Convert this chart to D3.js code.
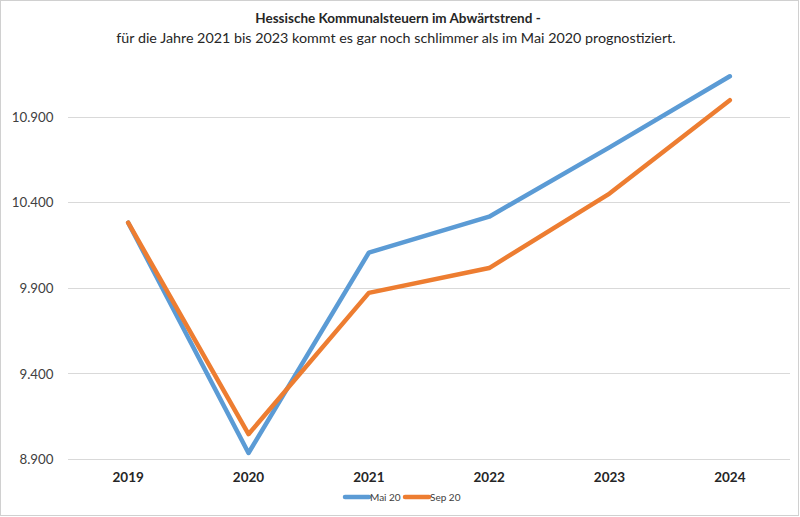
<!DOCTYPE html>
<html><head><meta charset="utf-8">
<script src="https://cdn.jsdelivr.net/npm/d3@7"></script>
<style>
html,body{margin:0;padding:0;background:#fff;}
svg{display:block;}
</style></head>
<body>
<svg id="c" width="800" height="517"></svg>
<script>
const years = ["2019","2020","2021","2022","2023","2024"];
const mai20 = [10280, 8935, 10105, 10315, 10720, 11135];
const sep20 = [10280, 9045, 9870, 10015, 10450, 10995];
const yTicks = [8900, 9400, 9900, 10400, 10900];
const seriesNames = ["Mai 20", "Sep 20"];
const colors = ["#5B9BD5", "#ED7D31"];
const titleLine1 = "Hessische Kommunalsteuern im Abwärtstrend -";
const titleLine2 = "für die Jahre 2021 bis 2023 kommt es gar noch schlimmer als im Mai 2020 prognostiziert.";

const font = "Lato, 'Open Sans', sans-serif";
const svg = d3.select("#c");

svg.append("rect").attr("x",0.5).attr("y",0.5).attr("width",798).attr("height",515)
  .attr("fill","#fff").attr("stroke","#d0d0d0");

const x = d3.scaleBand().domain(years).range([68, 790]);
const y = d3.scaleLinear().domain([8900, 10900]).range([459, 116.5]);

// gridlines
svg.append("g").selectAll("line").data(yTicks).join("line")
  .attr("x1", 68).attr("x2", 790)
  .attr("y1", d => Math.round(y(d)) + 0.5).attr("y2", d => Math.round(y(d)) + 0.5)
  .attr("stroke", "#d9d9d9").attr("stroke-width", 1.2);

// y axis labels
const yAxis = d3.axisLeft(y).tickValues(yTicks).tickSize(0).tickPadding(0)
  .tickFormat(d => d3.format(",")(d).replace(",", "."));
const gy = svg.append("g").attr("transform", "translate(53.5,0)").call(yAxis);
gy.select(".domain").remove();
gy.selectAll("text").attr("font-family", font).attr("font-size", 13.3).attr("fill", "#404040").attr("dy","0.35em");

// x axis labels
const xAxis = d3.axisBottom(x).tickSize(0).tickPadding(0);
const gx = svg.append("g").attr("transform", "translate(0,472)").call(xAxis);
gx.select(".domain").remove();
gx.selectAll("text").attr("font-family", font).attr("font-size", 13.5).attr("font-weight", "bold").attr("fill", "#262626").attr("dy","0.71em");

// lines
const line = d3.line().x((d, i) => x(years[i]) + x.bandwidth() / 2).y(d => y(d));
[mai20, sep20].forEach((s, k) => {
  svg.append("path").datum(s).attr("d", line).attr("fill", "none")
    .attr("stroke", colors[k]).attr("stroke-width", 4.5)
    .attr("stroke-linejoin", "round").attr("stroke-linecap", "round");
});

// title
svg.append("text").attr("x", 398).attr("y", 23).attr("text-anchor", "middle")
  .attr("font-family", font).attr("font-size", 13.5).attr("font-weight", "bold").attr("fill", "#262626").text(titleLine1);
svg.append("text").attr("x", 396).attr("y", 43).attr("text-anchor", "middle")
  .attr("font-family", font).attr("font-size", 14.3).attr("fill", "#262626").text(titleLine2);

// legend
const legX = [345, 405];
seriesNames.forEach((n, k) => {
  svg.append("line").attr("x1", legX[k]).attr("x2", legX[k] + 24).attr("y1", 497).attr("y2", 497)
    .attr("stroke", colors[k]).attr("stroke-width", 4.5).attr("stroke-linecap", "round");
  svg.append("text").attr("x", legX[k] + 25).attr("y", 500.5).attr("font-family", font)
    .attr("font-size", 10).attr("fill", "#404040").text(n);
});
</script>
</body></html>
